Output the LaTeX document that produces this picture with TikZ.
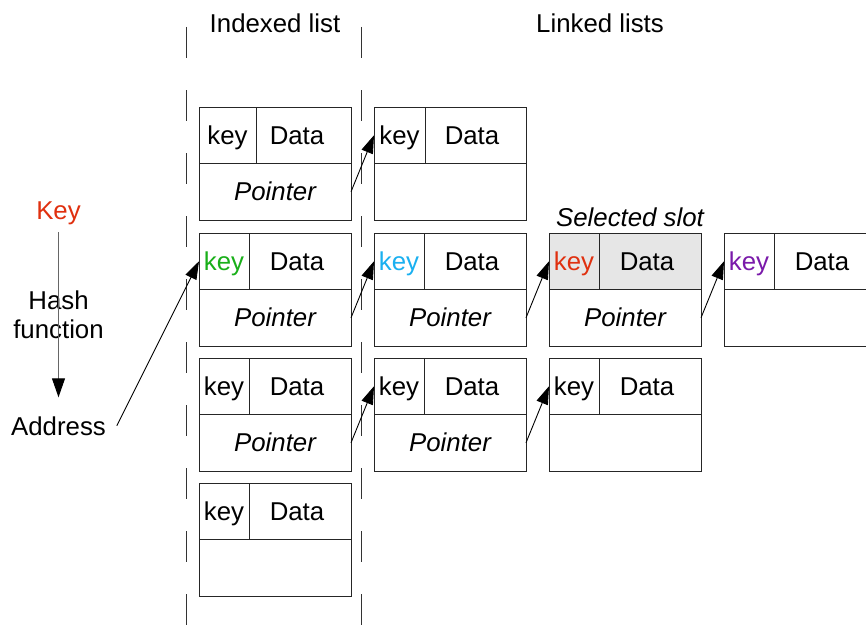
\documentclass[tikz,border=0pt]{standalone}
\usepackage{fontspec}
\setmainfont{Liberation Sans}
\usetikzlibrary{arrows.meta}
\definecolor{keyred}{HTML}{E0300F}
\definecolor{keygreen}{HTML}{19AF19}
\definecolor{keycyan}{HTML}{1AB0F0}
\definecolor{keypurple}{HTML}{7A1AAA}
\definecolor{selgray}{HTML}{E6E6E6}
% #1 name, #2 x, #3 y, #4 key width, #5 data width, #6 key colour, #7 pointer text, #8 top fill, #9 data text shift
\newcommand\slotbox[9]{%
  \node[cell, fill=#8, minimum width=#4pt] (#1k) at (#2,#3) {\textcolor{#6}{key}};
  \node[cell, fill=#8, minimum width=#5pt] (#1d) at (#1k.north east) {\hspace*{#9pt}Data};
  \node[cell, minimum width=152pt] (#1p) at (#1k.south west) {\itshape #7};
}
\begin{document}
\begin{tikzpicture}[x=1pt,y=-1pt,
  every node/.style={font=\fontsize{25.8}{29}\selectfont, inner sep=0pt, outer sep=0pt},
  cell/.style={draw=black!85, line width=1pt, minimum height=56.5pt, text height=18.3pt, text depth=0pt, anchor=north west},
  ptr/.style={line width=0.9pt, -{Triangle[length=18pt,width=12pt]}},
  divider/.style={line width=1pt, black!80, dash pattern=on 31pt off 32pt},
]
\clip (0,0) rectangle (866,626);
\fill[white] (0,0) rectangle (866,626);

% dashed separators
\draw[divider] (186,27) -- (186,626);
\draw[divider] (361,27) -- (361,626);

% titles
\node[anchor=base] (t1) at (275,33) {Indexed list};
\node[anchor=base] (t2) at (600,33) {Linked lists};
\node[anchor=base] (sel) at (630,226) {\itshape Selected slot};

% slots
\slotbox{a1}{199}{107}{57}{95}{black}{Pointer}{white}{-13}
\slotbox{a2}{199}{233}{50}{102}{keygreen}{Pointer}{white}{-6}
\slotbox{a3}{199}{358}{50}{102}{black}{Pointer}{white}{-6}
\slotbox{a4}{199}{483}{50}{102}{black}{}{white}{-6}
\slotbox{b1}{374}{107}{51}{101}{black}{}{white}{-7}
\slotbox{b2}{374}{233}{50}{102}{keycyan}{Pointer}{white}{-6}
\slotbox{b3}{374}{358}{50}{102}{black}{Pointer}{white}{-6}
\slotbox{c2}{549}{233}{50}{102}{keyred}{Pointer}{selgray}{-6}
\slotbox{c3}{549}{358}{50}{102}{black}{}{white}{-6}
\slotbox{d2}{724}{233}{50}{102}{keypurple}{}{white}{-6}

% pointers
\draw[ptr] (a1p.east) -- (b1k.west);
\draw[ptr] (a2p.east) -- (b2k.west);
\draw[ptr] (b2p.east) -- (c2k.west);
\draw[ptr] (c2p.east) -- (d2k.west);
\draw[ptr] (a3p.east) -- (b3k.west);
\draw[ptr] (b3p.east) -- (c3k.west);

% hashing column
\node[text=keyred, anchor=base] (key) at (58.5,219) {Key};
\node[align=center] (hash) at (58.5,314.3) {Hash\\function};
\node[anchor=base] (addr) at (58.5,435) {Address};
\draw[line width=1pt, draw=black!60, -{Triangle[length=19pt,width=13pt,black]}, shorten <=8pt, shorten >=19pt] (key) -- (addr);
\draw[ptr] ([xshift=11pt]addr.east) -- (a2k.west);
\end{tikzpicture}
\end{document}
